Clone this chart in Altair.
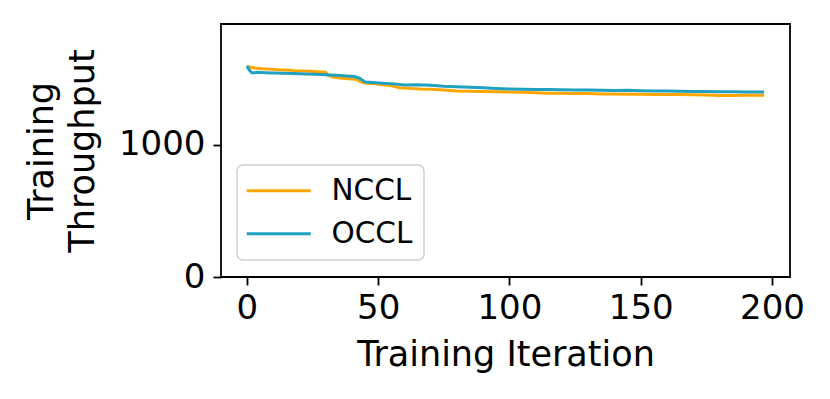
import altair as alt
import pandas as pd

# NCCL series (Training iteration, throughput)
nccl_x = [0, 1, 3, 6, 9, 12, 15, 18, 21, 24, 27, 30, 31, 33, 36, 39, 42, 44, 46, 49, 52, 55, 58, 62, 66, 70, 75, 80, 85, 90, 95, 100,
          105, 110, 115, 120, 125, 130, 135, 140, 145, 150, 155, 160, 165, 170, 175, 180, 185, 190, 195, 197]
nccl_y = [1592, 1585, 1578, 1572, 1568, 1564, 1562, 1558, 1556, 1553, 1550, 1546, 1522, 1510, 1500, 1497, 1490, 1468, 1463, 1458, 1450, 1446, 1428, 1424, 1420, 1418, 1412, 1405, 1403, 1400, 1398, 1396,
          1394, 1391, 1388, 1388, 1386, 1385, 1382, 1382, 1380, 1380, 1378, 1377, 1377, 1375, 1374, 1371, 1371, 1372, 1372, 1373]

# OCCL series
occl_x = [0, 1, 2, 4, 7, 10, 14, 18, 22, 26, 30, 34, 38, 41, 43, 45, 48, 52, 56, 60, 65, 70, 75, 80, 85, 90, 95, 100,
          105, 110, 115, 120, 125, 130, 135, 140, 145, 150, 155, 160, 165, 170, 175, 180, 185, 190, 195, 197]
occl_y = [1592, 1560, 1540, 1545, 1542, 1540, 1538, 1536, 1533, 1530, 1527, 1524, 1518, 1513, 1500, 1472, 1468, 1462, 1458, 1450, 1452, 1447, 1440, 1436, 1432, 1428, 1423, 1420,
          1418, 1415, 1416, 1413, 1412, 1411, 1410, 1408, 1409, 1407, 1405, 1404, 1403, 1401, 1400, 1399, 1398, 1397, 1396, 1396]

series_names = ["NCCL", "OCCL"]
series_colors = ["#ffa500", "#21a1c2"]
x_ticks = [0, 50, 100, 150, 200]
y_ticks = [0, 1000]

df = pd.concat([
    pd.DataFrame({"iter": nccl_x, "thr": nccl_y, "lib": "NCCL"}),
    pd.DataFrame({"iter": occl_x, "thr": occl_y, "lib": "OCCL"}),
])

FONT = "DejaVu Sans"

lines = alt.Chart(df).mark_line(strokeWidth=3, clip=True).encode(
    x=alt.X("iter:Q", title="Training Iteration",
            scale=alt.Scale(domain=[-9.85, 206.85], nice=False, zero=False),
            axis=alt.Axis(values=x_ticks, format="d")),
    y=alt.Y("thr:Q", title=["Training", "Throughput"],
            scale=alt.Scale(domain=[0, 1910], nice=False),
            axis=alt.Axis(values=y_ticks, format="d")),
    color=alt.Color("lib:N", sort=series_names,
                    scale=alt.Scale(domain=series_names, range=series_colors),
                    legend=alt.Legend(title=None, orient="none", legendX=16, legendY=141)),
    order=alt.Order("iter:Q"),
)

chart = lines.properties(
    width=569, height=253,
    padding={"left": 213, "top": 16, "right": 32, "bottom": 100},
    autosize=alt.AutoSizeParams(type="none"),
).configure_view(
    stroke="black", strokeWidth=1.8
).configure_axis(
    labelFont=FONT, titleFont=FONT, labelFontSize=34, titleFontSize=35,
    titleFontWeight="normal", labelColor="black", titleColor="black",
    tickColor="black", tickWidth=1.8, tickSize=8, grid=False, domain=False,
).configure_axisX(
    labelPadding=6, titlePadding=12,
).configure_axisY(
    labelPadding=8, titlePadding=18, titleLineHeight=41,
).configure_legend(
    labelFont=FONT, labelFontSize=29.5, labelColor="black",
    symbolType="M-2,0H6", symbolSize=256, symbolStrokeWidth=3,
    labelOffset=54, rowPadding=12, padding=11,
    strokeColor="#d0d0d0", strokeWidth=1.5, cornerRadius=6, fillColor="white",
)

chart.save("out.html", embed_options={"renderer": "svg", "actions": False})
